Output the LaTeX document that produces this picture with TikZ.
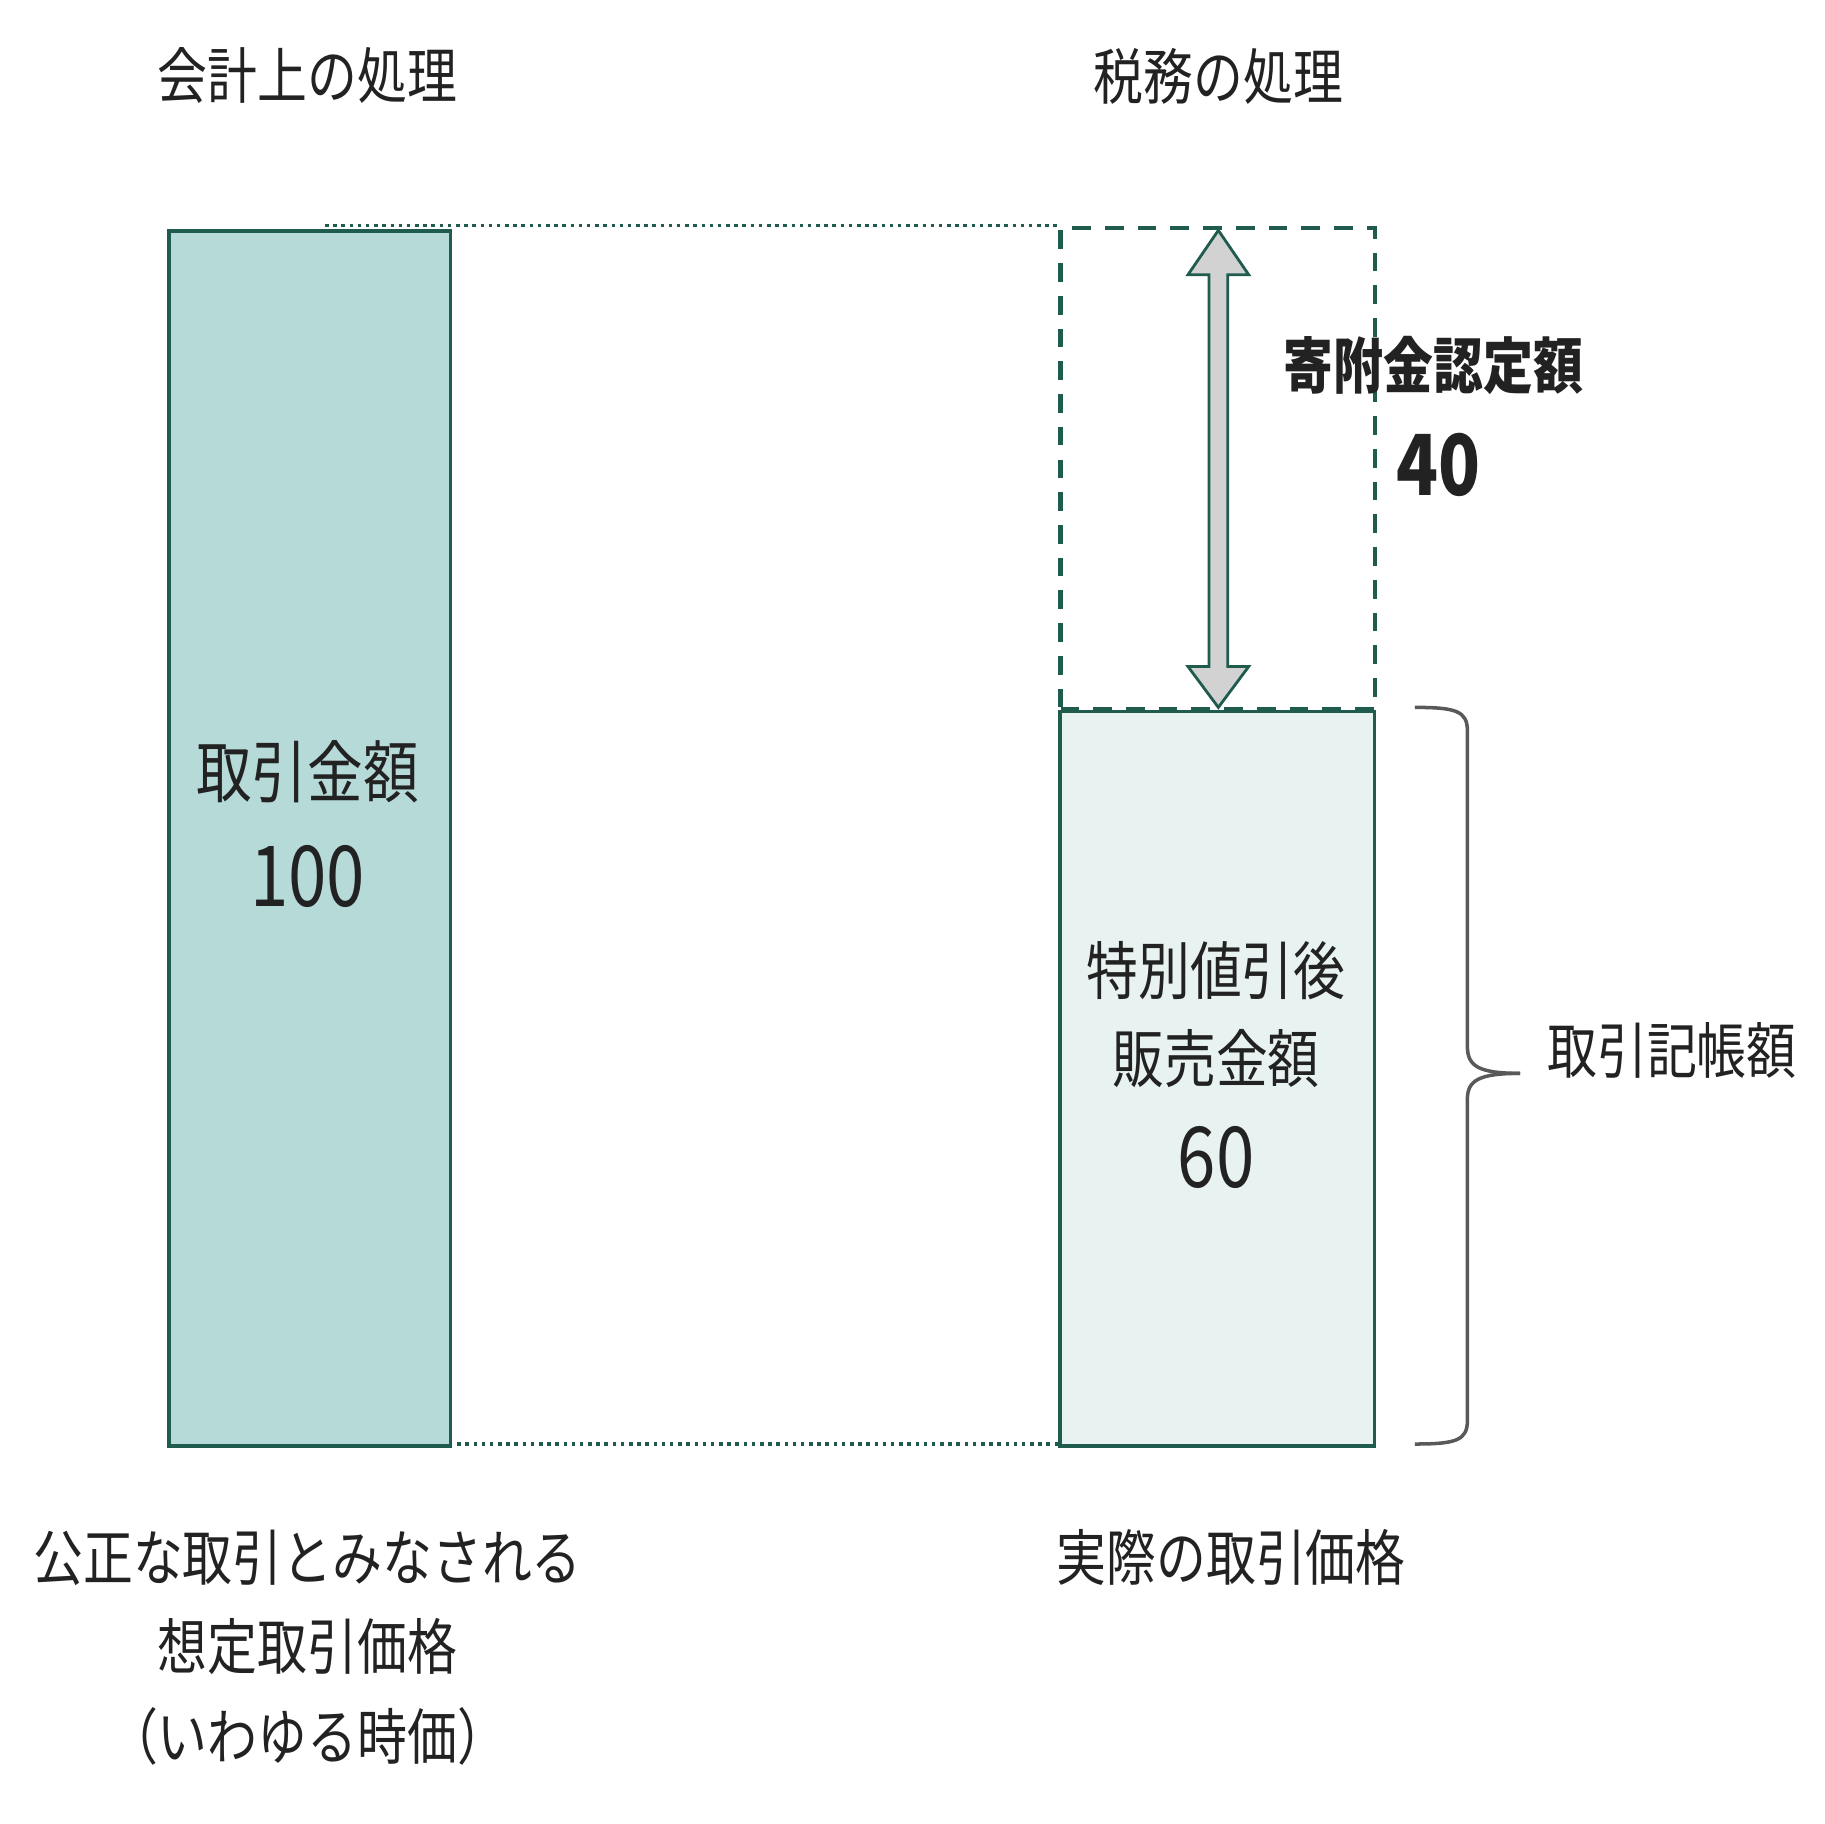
\documentclass[tikz,border=0pt]{standalone}
\usepackage{fontspec}
\newfontfamily\jp{Noto Sans CJK JP}[FakeStretch=0.82]
\definecolor{dg}{HTML}{1F5C4E}
\definecolor{lf}{HTML}{B5DAD8}
\definecolor{rf}{HTML}{E8F3F1}
\definecolor{tx}{HTML}{222222}
\begin{document}
\begin{tikzpicture}[x=0.5pt,y=-0.5pt,
  lbl/.style={font=\jp\fontsize{26}{30}\selectfont,text=tx,inner sep=0},
  big/.style={font=\jp\fontsize{29}{34}\selectfont,text=tx,inner sep=0},
  num/.style={font=\jp\fontsize{36}{40}\selectfont,text=tx,inner sep=0},
  bar/.style={draw=dg,line width=1.5pt}]
\useasboundingbox (0,0) rectangle (1560,1560);
\draw[dg,dotted,line width=1.5pt] (278,193) -- (905,193);
\draw[dg,dotted,line width=1.5pt] (384,1235) -- (905,1235);
\node[bar,fill=lf,minimum width=120.5pt,minimum height=519.5pt,anchor=north west,inner sep=0] (L) at (143,196) {};
\node[bar,fill=rf,minimum width=134.5pt,minimum height=314pt,anchor=north west,inner sep=0] (R) at (905,607) {};
\node[draw=dg,dashed,dash pattern=on 8pt off 6pt,line width=2pt,minimum width=134.5pt,minimum height=206pt,anchor=north west,inner sep=0] (D) at (905,193) {};
\fill[gray!35,draw=dg,line width=1.2pt] (1042,197) -- (1068,235) -- (1050,235) -- (1050,570) -- (1068,570) -- (1042,605) -- (1016,570) -- (1034,570) -- (1034,235) -- (1016,235) -- cycle;
\draw[gray!70!black,line width=1.5pt] (1210,605) .. controls (1245,605) and (1255,608) .. (1255,625) -- (1255,895) .. controls (1255,912) and (1265,918) .. (1300,918);
\draw[gray!70!black,line width=1.5pt] (1210,1235) .. controls (1245,1235) and (1255,1232) .. (1255,1215) -- (1255,940) .. controls (1255,924) and (1265,918) .. (1300,918);
\node[lbl] (t1) at (263,65) {会計上の処理};
\node[lbl] (t2) at (1042,65) {税務の処理};
\node[lbl,font=\jp\bfseries\fontsize{26}{30}\selectfont] (k) at (1226,313) {寄附金認定額};
\node[num,font=\jp\bfseries\fontsize{36}{40}\selectfont] (k4) at (1230,398) {40};
\node[big] (a) at (263,660) {取引金額};
\node[num] (a1) at (263,750) {100};
\node[lbl,font=\jp\fontsize{27}{30}\selectfont] (b) at (1040,830) {特別値引後};
\node[lbl,font=\jp\fontsize{27}{30}\selectfont] (b2) at (1040,905) {販売金額};
\node[num] (b3) at (1040,990) {60};
\node[lbl] (c) at (1430,898) {取引記帳額};
\node[lbl] (d1) at (263,1332) {公正な取引とみなされる};
\node[lbl] (d2) at (263,1408) {想定取引価格};
\node[lbl] (d3) at (263,1485) {（いわゆる時価）};
\node[lbl] (e) at (1053,1332) {実際の取引価格};
\end{tikzpicture}
\end{document}
